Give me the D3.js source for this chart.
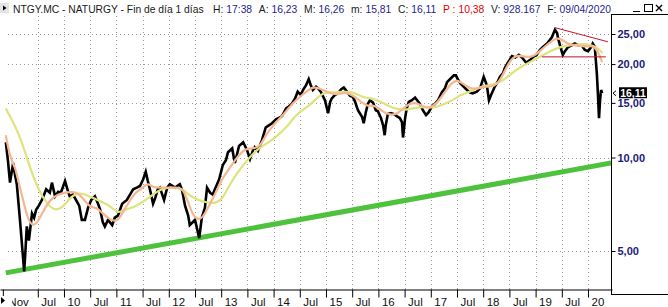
<!DOCTYPE html>
<html><head><meta charset="utf-8">
<script src="https://cdn.jsdelivr.net/npm/d3@7"></script>
<style>
html,body{margin:0;padding:0;background:#fff;overflow:hidden;}
svg{display:block;font-family:"Liberation Sans",Arial,sans-serif;}
</style></head><body>
<svg id="c" width="668" height="307"></svg>
<script>
// ---------- DATA ----------
const xTickValues = [2008.833,2009.5,2010,2010.5,2011,2011.5,2012,2012.5,2013,2013.5,2014,2014.5,2015,2015.5,2016,2016.5,2017,2017.5,2018,2018.5,2019,2019.5,2020];
const xTickLabels = ["Nov","Jul","10","Jul","11","Jul","12","Jul","13","Jul","14","Jul","15","Jul","16","Jul","17","Jul","18","Jul","19","Jul","20"];
const yTickValues = [5,10,15,20,25];

const price = [[2008.89,11.2],[2008.93,9.8],[2008.97,8.3],[2009.03,9.6],[2009.065,8.8],[2009.10,8.2],[2009.16,6.3],[2009.20,5.2],[2009.24,4.3],[2009.26,4.85],[2009.29,6.0],[2009.33,5.4],[2009.39,6.6],[2009.43,6.4],[2009.47,6.8],[2009.52,7.0],[2009.58,7.3],[2009.66,7.9],[2009.73,7.7],[2009.77,8.3],[2009.83,7.5],[2009.89,7.75],[2009.94,7.7],
[2010.02,8.4],[2010.08,7.75],[2010.11,7.5],[2010.17,7.6],[2010.23,7.3],[2010.29,7.0],[2010.34,6.3],[2010.40,6.3],[2010.46,6.9],[2010.52,7.3],[2010.59,7.5],[2010.65,7.1],[2010.69,6.8],[2010.74,6.2],[2010.78,6.0],[2010.84,6.3],[2010.92,6.06],[2010.97,6.4],
[2011.03,6.5],[2011.11,7.1],[2011.20,7.3],[2011.26,7.6],[2011.32,7.9],[2011.39,8.0],[2011.45,8.1],[2011.51,8.5],[2011.56,9.0],[2011.60,8.4],[2011.64,7.9],[2011.70,7.1],[2011.74,7.4],[2011.79,7.9],[2011.83,8.0],[2011.91,7.3],[2011.97,8.0],
[2012.02,8.2],[2012.12,8.0],[2012.21,8.2],[2012.25,7.9],[2012.31,7.0],[2012.37,6.5],[2012.40,6.06],[2012.46,6.2],[2012.50,6.3],[2012.54,5.9],[2012.58,5.5],[2012.63,6.4],[2012.69,6.9],[2012.73,8.0],[2012.79,7.7],[2012.84,7.6],[2012.88,7.9],[2012.96,8.5],
[2013.03,9.45],[2013.09,9.8],[2013.13,10.4],[2013.21,10.7],[2013.26,9.6],[2013.30,10.2],[2013.34,10.9],[2013.42,11.2],[2013.49,10.6],[2013.55,9.9],[2013.61,10.6],[2013.64,10.8],[2013.70,10.5],[2013.78,11.4],[2013.85,12.5],[2013.91,12.7],[2013.97,12.9],
[2014.05,13.3],[2014.10,13.4],[2014.16,13.6],[2014.24,14.4],[2014.29,14.6],[2014.35,14.9],[2014.41,15.5],[2014.46,16.3],[2014.52,15.9],[2014.56,16.5],[2014.62,17.1],[2014.67,17.9],[2014.71,17.1],[2014.75,16.5],[2014.81,16.9],[2014.85,16.7],[2014.90,16.3],[2014.98,15.3],
[2015.04,13.9],[2015.08,15.1],[2015.11,15.5],[2015.17,15.9],[2015.23,16.1],[2015.29,16.6],[2015.34,16.8],[2015.40,16.3],[2015.46,15.8],[2015.51,15.7],[2015.55,15.2],[2015.61,14.2],[2015.69,13.5],[2015.72,12.9],[2015.76,14.0],[2015.80,14.9],[2015.84,15.3],[2015.90,15.0],[2015.95,14.2],[2015.99,14.1],
[2016.05,13.4],[2016.09,12.7],[2016.12,11.8],[2016.14,12.7],[2016.18,13.8],[2016.24,13.9],[2016.30,13.8],[2016.35,13.6],[2016.41,13.4],[2016.45,13.0],[2016.47,11.6],[2016.51,13.4],[2016.54,14.4],[2016.58,15.1],[2016.64,15.3],[2016.70,15.6],[2016.75,15.2],[2016.79,14.9],[2016.85,14.2],[2016.91,13.7],[2016.96,14.0],
[2017.02,14.6],[2017.08,14.9],[2017.14,15.3],[2017.21,16.2],[2017.27,16.7],[2017.31,17.5],[2017.37,17.9],[2017.44,18.4],[2017.48,18.4],[2017.52,17.8],[2017.57,17.3],[2017.63,16.9],[2017.69,16.5],[2017.75,16.2],[2017.80,16.1],[2017.88,16.3],[2017.94,16.7],
[2018.01,18.2],[2018.07,17.1],[2018.11,15.3],[2018.15,15.9],[2018.22,16.9],[2018.28,17.6],[2018.32,18.2],[2018.38,18.7],[2018.41,19.4],[2018.47,20.2],[2018.55,21.2],[2018.61,21.0],[2018.68,21.4],[2018.74,21.0],[2018.82,20.2],[2018.89,20.6],[2018.97,21.2],
[2019.02,21.4],[2019.08,22.2],[2019.14,22.7],[2019.22,23.3],[2019.27,23.9],[2019.31,24.4],[2019.37,25.8],[2019.41,25.2],[2019.43,24.2],[2019.48,22.5],[2019.52,21.4],[2019.56,22.0],[2019.62,22.7],[2019.69,23.0],[2019.75,23.3],[2019.81,23.0],[2019.88,23.0],[2019.94,22.2],
[2020.00,22.0],[2020.06,22.7],[2020.09,23.3],[2020.13,22.7],[2020.17,18.5],[2020.19,15.9],[2020.21,13.4],[2020.23,15.3],[2020.25,16.5],[2020.27,16.11]];

const maFast = [[2008.89,11.8],[2008.97,10.0],[2009.07,9.3],[2009.12,8.5],[2009.22,7.3],[2009.31,6.3],[2009.41,6.0],[2009.50,6.2],[2009.60,6.7],[2009.73,7.3],[2009.87,7.6],[2010.06,7.75],[2010.25,7.75],[2010.36,7.4],[2010.50,6.9],[2010.63,6.9],[2010.74,6.6],[2010.88,6.3],[2011.01,6.2],[2011.11,6.6],[2011.22,7.1],[2011.35,7.7],[2011.51,8.0],[2011.60,8.3],[2011.70,8.0],[2011.83,8.0],[2012.02,8.0],[2012.21,8.0],[2012.27,7.9],[2012.37,7.2],[2012.46,6.5],[2012.56,6.3],[2012.65,6.4],[2012.75,6.9],[2012.88,7.6],[2013.01,8.5],[2013.17,9.3],[2013.30,10.0],[2013.45,10.7],[2013.61,10.7],[2013.74,10.8],[2013.87,12.0],[2014.03,12.9],[2014.18,13.7],[2014.37,15.0],[2014.54,15.9],[2014.67,16.5],[2014.75,16.9],[2014.88,16.7],[2015.04,16.2],[2015.21,15.9],[2015.36,16.3],[2015.51,15.9],[2015.69,15.0],[2015.80,14.6],[2015.93,14.8],[2016.09,14.0],[2016.22,13.7],[2016.37,13.8],[2016.54,14.8],[2016.70,15.1],[2016.85,14.6],[2016.98,14.4],[2017.12,15.0],[2017.23,15.9],[2017.40,17.5],[2017.52,17.8],[2017.65,17.1],[2017.80,16.5],[2017.98,16.9],[2018.13,16.9],[2018.26,17.1],[2018.38,18.5],[2018.51,20.6],[2018.64,21.4],[2018.80,21.1],[2018.95,21.1],[2019.08,22.0],[2019.24,23.3],[2019.41,24.4],[2019.52,23.9],[2019.65,23.0],[2019.81,23.0],[2019.98,22.7],[2020.09,23.0],[2020.19,22.0],[2020.27,20.3]];

const maSlow = [[2008.89,14.4],[2009.03,13.0],[2009.16,11.7],[2009.29,10.0],[2009.41,8.7],[2009.54,7.7],[2009.68,7.1],[2009.79,6.8],[2009.92,6.8],[2010.06,7.2],[2010.17,7.6],[2010.36,7.7],[2010.55,7.4],[2010.74,7.2],[2010.92,6.9],[2011.03,6.6],[2011.16,6.8],[2011.32,6.9],[2011.51,7.2],[2011.70,7.6],[2011.89,8.0],[2012.16,8.0],[2012.27,7.9],[2012.46,7.4],[2012.65,7.2],[2012.88,7.1],[2013.01,7.3],[2013.13,8.0],[2013.30,8.9],[2013.49,9.8],[2013.68,10.6],[2013.87,11.1],[2014.06,11.7],[2014.25,12.5],[2014.45,13.9],[2014.64,14.5],[2014.79,15.3],[2014.94,16.2],[2015.13,16.2],[2015.32,16.3],[2015.51,16.3],[2015.70,15.6],[2015.90,15.5],[2016.09,15.0],[2016.28,14.4],[2016.47,14.2],[2016.66,14.4],[2016.85,14.6],[2017.04,14.4],[2017.23,14.8],[2017.42,15.3],[2017.56,15.9],[2017.75,16.3],[2017.94,16.9],[2018.13,17.1],[2018.32,17.4],[2018.51,18.5],[2018.70,19.5],[2018.89,20.3],[2019.08,21.1],[2019.27,22.0],[2019.46,22.7],[2019.65,23.0],[2019.85,23.2],[2020.04,23.2],[2020.19,22.5],[2020.28,21.7]];

const trendSupport = [[2008.89,4.25],[2020.44,9.6]];
const redFalling = [[2019.37,26.2],[2020.38,23.6]];
const redFlat = [[2019.12,21.1],[2020.34,21.1]];
const lastClose = 16.11;

const headTitle = "NTGY.MC - NATURGY - Fin de día 1 días";
const headLabels = ["H:","A:","M:","m:","C:","P :","V:","F:"];
const headValues = ["17:38","16,23","16,26","15,81","16,11","10,38","928.167","09/04/2020"];

// ---------- LAYOUT ----------
const W = 668, H = 307;
const plotL = 0, plotR = 611, plotT = 16, plotB = 289;
const headFont = 10.3, headStart = 13, headPairsStart = 213, headEnd = 611;

const svg = d3.select("#c");
const x = d3.scaleLinear().domain([2008.779, 2020.458]).range([0, 612]);
const y = d3.scaleLog().domain([5, 25]).range([251, 34]);
const fmt = v => d3.format(".2f")(v).replace(".", ",");

svg.append("rect").attr("width", W).attr("height", H).attr("fill", "#fff");

svg.append("clipPath").attr("id","plot").append("rect")
  .attr("x", plotL).attr("y", plotT).attr("width", plotR - plotL).attr("height", plotB - plotT);

// grid
const grid = svg.append("g").attr("stroke", "#9a9a9a").attr("stroke-dasharray", "1,3").attr("stroke-width", 1);
grid.selectAll("line.v").data(xTickValues.slice(1)).join("line")
  .attr("x1", d => Math.round(x(d)) + 0.5).attr("x2", d => Math.round(x(d)) + 0.5)
  .attr("y1", plotT).attr("y2", plotB);
grid.selectAll("line.h").data(yTickValues).join("line")
  .attr("x1", 8).attr("x2", plotR)
  .attr("y1", d => Math.round(y(d)) + 0.5).attr("y2", d => Math.round(y(d)) + 0.5);

const plot = svg.append("g").attr("clip-path", "url(#plot)");
const line = d3.line().x(d => x(d[0])).y(d => y(d[1]));
const smooth = d3.line().x(d => x(d[0])).y(d => y(d[1])).curve(d3.curveBasis);

plot.append("path").datum(trendSupport).attr("d", line)
  .attr("fill", "none").attr("stroke", "#4fc23d").attr("stroke-width", 5);

plot.append("path").datum(price).attr("d", line)
  .attr("fill", "none").attr("stroke", "#000").attr("stroke-width", 2.6).attr("stroke-linejoin", "miter");

plot.append("path").datum(maSlow).attr("d", smooth)
  .attr("fill", "none").attr("stroke", "#dde37d").attr("stroke-width", 2.2);
plot.append("path").datum(maFast).attr("d", smooth)
  .attr("fill", "none").attr("stroke", "#f5b690").attr("stroke-width", 2.2);

plot.append("path").datum(redFalling).attr("d", line)
  .attr("fill", "none").attr("stroke", "#c8102e").attr("stroke-width", 1);
plot.append("path").datum(redFlat).attr("d", line)
  .attr("fill", "none").attr("stroke", "#c8102e").attr("stroke-width", 1);

// x axis
const xAxis = svg.append("g").attr("transform", `translate(0,${plotB + 0.5})`)
  .call(d3.axisBottom(x).tickValues(xTickValues).tickSize(8).tickSizeOuter(0)
    .tickFormat((d, i) => xTickLabels[i]));
xAxis.select(".domain").attr("stroke", "#000");
xAxis.selectAll(".tick line").attr("stroke", "#000");
xAxis.selectAll(".tick text").attr("x", (d, i) => i === 0 ? 5 : 3).attr("y", 16).attr("dy", 0)
  .attr("text-anchor", "start").attr("font-size", 11.5).attr("fill", "#111")
  .attr("font-family", "'Liberation Sans',Arial,sans-serif");

// right panel frame
svg.append("path").attr("d", `M${plotR + 0.5},14.5V294.5M${plotR},14.5H${W}M${plotR},294.5H${W}`)
  .attr("stroke", "#000").attr("fill", "none");

// y axis
const yAxis = svg.append("g").attr("transform", `translate(${plotR + 0.5},0)`)
  .call(d3.axisRight(y).tickValues(yTickValues).tickSize(4).tickFormat(fmt));
yAxis.select(".domain").remove();
yAxis.selectAll(".tick line").attr("stroke", "#000");
yAxis.selectAll(".tick text").attr("x", 6).attr("font-size", 11).attr("font-weight", "bold")
  .attr("fill", "#1b1b7e").attr("font-family", "'Liberation Sans',Arial,sans-serif");

// last price marker
const ly = y(lastClose);
svg.append("path").attr("d", `M${plotR + 5},${ly - 2.5}L${plotR + 2},${ly}L${plotR + 5},${ly + 2.5}`)
  .attr("stroke", "#000").attr("fill", "none");
svg.append("rect").attr("x", 619).attr("y", ly - 6).attr("width", 28).attr("height", 11).attr("fill", "#000");
svg.append("text").attr("x", 633).attr("y", ly + 3.5).attr("text-anchor", "middle")
  .attr("font-size", 10.5).attr("font-weight", "bold").attr("fill", "#fff").text(fmt(lastClose));

// header (sequential layout)
const head = svg.append("g").attr("font-size", headFont);
head.append("text").attr("x", headStart).attr("y", 13).attr("fill", "#1a1a1a").text(headTitle);
const lab = head.selectAll("text.l").data(headLabels).join("text").attr("class", "l")
  .attr("y", 13).attr("fill", d => d === "P :" ? "#e00000" : "#1a1a1a").text(d => d);
const val = head.selectAll("text.v").data(headValues).join("text").attr("class", "v")
  .attr("y", 13).attr("fill", (d, i) => headLabels[i] === "P :" ? "#e00000" : "#1e1e8c").text(d => d);
const lw = lab.nodes().map(n => n.getComputedTextLength());
const vw = val.nodes().map(n => n.getComputedTextLength());
const inner = 3;
const total = d3.sum(lw) + d3.sum(vw) + inner * headLabels.length;
const gap = (headEnd - headPairsStart - total) / (headLabels.length - 1);
let cx = headPairsStart;
headLabels.forEach((d, i) => {
  d3.select(lab.nodes()[i]).attr("x", cx);
  cx += lw[i] + inner;
  d3.select(val.nodes()[i]).attr("x", cx);
  cx += vw[i] + gap;
});

// left triangles
svg.append("rect").attr("x", 0).attr("y", 3).attr("width", 9).attr("height", 10).attr("fill", "#e4e4e4");
svg.append("path").attr("d", "M3,5.5L6.5,8L3,10.5Z").attr("fill", "#000");
svg.append("rect").attr("x", 0).attr("y", 296).attr("width", 12).attr("height", 11).attr("fill", "#fff");
svg.append("path").attr("d", "M1,297L5,300.5L1,304Z").attr("fill", "#000");

// window buttons
const wb = svg.append("g").attr("stroke", "#000").attr("fill", "none");
wb.append("path").attr("d", "M633,11.5H640");
wb.append("rect").attr("x", 644.5).attr("y", 4.5).attr("width", 8).attr("height", 7);
wb.append("path").attr("d", "M656,5L662,11M662,5L656,11").attr("stroke-width", 1.4);
</script>
</body></html>
